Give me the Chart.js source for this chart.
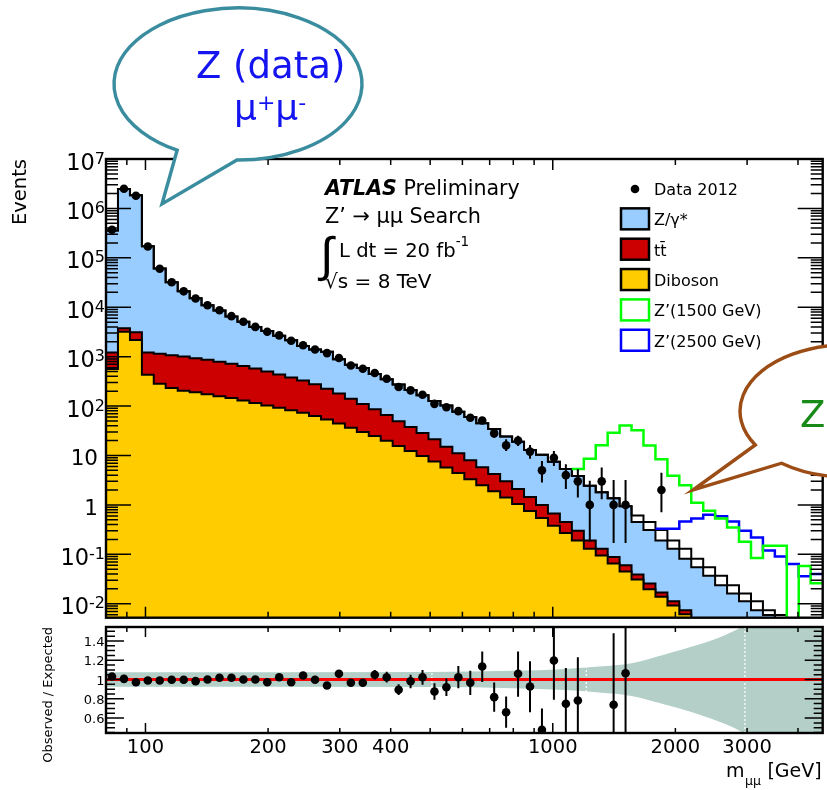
<!DOCTYPE html>
<html>
<head>
<meta charset="utf-8">
<title>Z' → μμ search: dimuon invariant mass</title>
<script src="https://cdn.jsdelivr.net/npm/chart.js@4.4.1/dist/chart.umd.min.js"></script>
<style>
  html, body { margin: 0; padding: 0; background: #ffffff; }
  #page { position: relative; width: 827px; height: 790px; overflow: hidden; background: #ffffff; }
  canvas { position: absolute; left: 0; }
  #mainCanvas { top: 0; }
  #ratioCanvas { top: 622px; }
</style>
</head>
<body>
<div id="page">
  <canvas id="mainCanvas" width="827" height="622"></canvas>
  <canvas id="ratioCanvas" width="827" height="168"></canvas>
</div>
<script>
// ---------------- binning: m_mumu bin edges in GeV (60 log-uniform bins) ----------------
const binEdges = [80.0, 85.6, 91.6, 98.0, 104.8, 112.1, 120.0, 128.4, 137.3, 146.9,
  157.2, 168.2, 179.9, 192.5, 205.9, 220.3, 235.7, 252.1, 269.8, 288.6,
  308.8, 330.3, 353.4, 378.1, 404.5, 432.8, 463.0, 495.3, 529.9, 566.9,
  606.5, 648.9, 694.2, 742.7, 794.6, 850.1, 909.5, 973.0, 1041, 1114,
  1192, 1275, 1364, 1459, 1561, 1670, 1787, 1912, 2045, 2188,
  2341, 2504, 2679, 2866, 3067, 3281, 3510, 3755, 4017, 4298, 4600];

// ---------------- observed events per bin (null = no entry) ----------------
const dataEvents = [3.7e5, 2.5e6, 1.8e6, 1.7e5, 6.0e4, 3.2e4, 2.1e4, 1.5e4, 1.1e4, 8700,
  6600, 5100, 4000, 3200, 2700, 2100, 1700, 1400, 1180, 940,
  662, 569, 466, 357, 243, 208, 170, 111, 95, 79,
  58, 51, 28, 16, 20, 12, 5, 9, 4, 3,
  1, 3, 1, 1, null, null, 2, null, null, null,
  null, null, null, null, null, null, null, null, null, null];
const dataErrLow = [null, null, null, null, null, null, null, null, null, null,
  null, null, null, null, null, null, null, null, null, null,
  null, null, null, null, null, null, null, null, null, null,
  null, null, 22.8, 12.3, 15.6, 8.6, 2.85, 6.15, 2.09, 1.42,
  0.18, 1.3, 0.17, 0.17, null, null, 0.71, null, null, null,
  null, null, null, null, null, null, null, null, null, null];
const dataErrHigh = [null, null, null, null, null, null, null, null, null, null,
  null, null, null, null, null, null, null, null, null, null,
  null, null, null, null, null, null, null, null, null, null,
  null, null, 34, 21.2, 25.2, 16.3, 7.7, 12.3, 6.65, 5.25,
  3.07, 5.7, 3.2, 3.2, null, null, 4.5, null, null, null,
  null, null, null, null, null, null, null, null, null, null];

// ---------------- stacked expectation, cumulative tops per bin (0 = below the floor) ----------------
const totalExpected = [3.59e5, 2.48e6, 1.85e6, 1.72e5, 6.06e4, 3.21e4, 2.11e4, 1.525e4, 1.1e4, 8550,
  6480, 5100, 4000, 3290, 2640, 2160, 1635, 1404, 1255, 888,
  685, 589, 444, 349, 272, 212, 166, 127, 103, 77,
  60, 45, 34.3, 24.2, 18.9, 12.9, 10.4, 7.5, 5.35, 3.84,
  2.45, 1.8, 1.36, 0.94, 0.61, 0.45, 0.31, 0.19, 0.13, 0.081,
  0.055, 0.037, 0.0236, 0.0161, 0.0113, 0.0074, 0.0059, 0, 0, 0];
const zStackTop = [3.59e5, 2.48e6, 1.85e6, 1.72e5, 6.06e4, 3.21e4, 2.11e4, 1.525e4, 1.1e4, 8550,
  6480, 5100, 4000, 3290, 2640, 2160, 1635, 1404, 1255, 888,
  685, 589, 444, 349, 272, 212, 166, 127, 103, 77,
  60, 45, 34.3, 24.2, 18.9, 12.9, 10.4, 7.5, 5.35, 3.84,
  2.45, 1.8, 1.36, 0.94, 0.45, 0.31, 0.19, 0.13, 0.081, 0.055,
  0.037, 0.0236, 0.0161, 0.0113, 0.0074, 0.0059, 0, 0, 0, 0];
const ttStackTop = [1210, 3740, 3110, 1210, 1140, 1070, 1005, 933, 863, 786,
  716, 644, 574, 499, 434, 378, 329, 277, 225, 179,
  140, 110, 86, 66, 49.5, 37.8, 28.4, 21.2, 15.1, 11.1,
  8.0, 5.8, 4.2, 3.0, 2.1, 1.44, 1.0, 0.67, 0.45, 0.30,
  0.19, 0.13, 0.088, 0.060, 0.039, 0.0256, 0.0169, 0.0113, 0.0074, 0,
  0, 0, 0, 0, 0, 0, 0, 0, 0, 0];
const dibosonTop = [560, 3200, 2180, 430, 284, 232, 205, 190, 174, 159,
  145, 130, 116, 103, 92, 82, 73, 63, 53.5, 44.5,
  36.4, 30, 24.7, 19.8, 15.5, 12.4, 9.8, 7.6, 5.7, 4.4,
  3.3, 2.5, 1.9, 1.42, 1.04, 0.75, 0.545, 0.38, 0.27, 0.19,
  0.13, 0.095, 0.065, 0.045, 0.031, 0.0197, 0.0138, 0.0092, 0.0061, 0,
  0, 0, 0, 0, 0, 0, 0, 0, 0, 0];

// ---------------- signal + background (null = not drawn) ----------------
const zp1500Top = [null, null, null, null, null, null, null, null, null, null,
  null, null, null, null, null, null, null, null, null, null,
  null, null, null, null, null, null, null, null, null, null,
  null, null, null, null, null, null, null, null, null, 5.3,
  8.6, 16.2, 28.8, 40.5, 32.6, 16, 8.4, 3.9, 2.5, 1.1,
  0.76, 0.53, 0.35, 0.18, 0.084, 0.15, 0.15, 0, 0.058, 0.026];
const zp2500Top = [null, null, null, null, null, null, null, null, null, null,
  null, null, null, null, null, null, null, null, null, null,
  null, null, null, null, null, null, null, null, null, null,
  null, null, null, null, null, null, null, null, null, null,
  null, null, null, null, null, null, 0.33, 0.33, 0.46, 0.53,
  0.63, 0.59, 0.46, 0.30, 0.22, 0.12, 0.09, 0.064, 0.036, 0.04];

// ---------------- observed / expected ----------------
const ratioObs = [1.031, 1.007, 0.972, 0.99, 0.99, 0.997, 0.997, 0.983, 1.0, 1.018,
  1.018, 1.0, 1.0, 0.972, 1.024, 0.972, 1.041, 0.997, 0.938, 1.059,
  0.966, 0.966, 1.049, 1.024, 0.893, 0.982, 1.024, 0.876, 0.92, 1.024,
  0.966, 1.135, 0.817, 0.661, 1.059, 0.927, 0.479, 1.197, 0.748, 0.782,
  null, null, 0.738, 1.065, null, null, null, null, null, null,
  null, null, null, null, null, null, null, null, null, null];
const ratioErrLow = [null, null, null, null, null, null, null, null, null, null,
  null, null, null, null, null, null, null, null, null, null,
  0.93, 0.93, 1.0, 0.97, 0.84, 0.91, 0.945, 0.79, 0.83, 0.91,
  0.84, 0.975, 0.665, 0.50, 0.82, 0.66, 0.26, 0.79, 0.37, 0.32,
  null, null, 0.0, 0.0, null, null, null, null, null, null,
  null, null, null, null, null, null, null, null, null, null];
const ratioErrHigh = [null, null, null, null, null, null, null, null, null, null,
  null, null, null, null, null, null, null, null, null, null,
  1.0, 1.0, 1.10, 1.08, 0.95, 1.05, 1.10, 0.96, 1.01, 1.14,
  1.09, 1.29, 0.97, 0.825, 1.29, 1.19, 0.70, 1.60, 1.12, 1.23,
  null, null, 1.48, 2.13, null, null, null, null, null, null,
  null, null, null, null, null, null, null, null, null, null];

// systematic uncertainty band on the expectation
const bandMass  = [80, 506, 800, 1073, 1300, 1561, 1885, 2275, 2644, 2931, 3200, 4600];
const bandUpper = [1.075, 1.078, 1.09, 1.11, 1.135, 1.17, 1.26, 1.36, 1.46, 1.55, 1.65, 1.9];
const bandLower = [0.925, 0.922, 0.91, 0.89, 0.865, 0.83, 0.74, 0.64, 0.54, 0.45, 0.35, 0.1];
// boundaries between band segments (thin white seams)
const seamMass  = [505, 1209, 2964];
const seamLower = [0.922, 0.87, 0.445];
const seamUpper = [1.078, 1.13, 1.545];

// ---------------- axis ticks and labels ----------------
const xTickValues = [100, 200, 300, 400, 1000, 2000, 3000];
const xTickLabels = ['100', '200', '300', '400', '1000', '2000', '3000'];
const xMajorTicks = [100, 1000];
const xMinorTicks = [90, 200, 300, 400, 500, 600, 700, 800, 900, 2000, 3000, 4000];
const mainYTickValues = [1e-2, 1e-1, 1, 10, 1e2, 1e3, 1e4, 1e5, 1e6, 1e7];
const mainYTickLabels = ['10^-2', '10^-1', '1', '10', '10^2', '10^3', '10^4', '10^5', '10^6', '10^7'];
const ratioTickValues = [0.6, 0.8, 1.0, 1.2, 1.4];
const ratioTickLabels = ['0.6', '0.8', '1', '1.2', '1.4'];

// ---------------- styling ----------------
const FONT = '"DejaVu Sans", "Liberation Sans", Arial, sans-serif';
const C_Z = '#99ccff', C_TT = '#cc0000', C_VV = '#ffcc00';
const C_ZP1500 = '#00ff00', C_ZP2500 = '#0000ff';
const C_BAND = '#b3cfc7';
const X_MIN = binEdges[0], X_MAX = binEdges[binEdges.length - 1];
const Y_MIN = 0.00522, Y_MAX = 1e7;
const FLOOR = 1e-4;   // below the visible range

const binCenters = binEdges.slice(0, -1).map((e, k) => Math.sqrt(e * binEdges[k + 1]));

// step outline of a histogram: one point per lower edge, then the closing edge
function histPoints(values) {
  const first = values.findIndex(v => v !== null);
  let last = values.length - 1;
  while (last >= 0 && values[last] === null) last--;
  const pts = [];
  for (let k = first; k <= last; k++) pts.push({ x: binEdges[k], y: values[k] > 0 ? values[k] : FLOOR });
  pts.push({ x: binEdges[last + 1], y: values[last] > 0 ? values[last] : FLOOR });
  if (last + 1 < binEdges.length - 1) pts.push({ x: binEdges[last + 1], y: FLOOR });
  return pts;
}
function markerPoints(values) {
  return values.map((v, k) => v === null ? null : { x: binCenters[k], y: v }).filter(p => p);
}
function errorBarPoints(lo, hi) {
  const pts = [];
  lo.forEach((l, k) => {
    if (l === null || hi[k] === null) return;
    pts.push({ x: binCenters[k], y: l }, { x: binCenters[k], y: hi[k] }, { x: binCenters[k], y: null });
  });
  return pts;
}
function seamPoints() {
  const pts = [];
  seamMass.forEach((m, i) => pts.push({ x: m, y: seamLower[i] }, { x: m, y: seamUpper[i] }, { x: m, y: null }));
  return pts;
}

function drawText(ctx, str, x, y, font, color, align) {
  ctx.font = font;
  ctx.fillStyle = color || '#000';
  ctx.textAlign = align || 'left';
  ctx.textBaseline = 'alphabetic';
  ctx.fillText(str, x, y);
  return ctx.measureText(str).width;
}

// frame with inward ticks on all four sides
function drawFrame(chart, t) {
  const { ctx, chartArea: a } = chart;
  const xs = chart.scales.x, ys = chart.scales.y;
  ctx.save();
  ctx.beginPath();
  ctx.rect(a.left, a.top, a.right - a.left, a.bottom - a.top);
  ctx.clip();
  ctx.strokeStyle = '#000';
  ctx.lineWidth = 1.5;
  ctx.beginPath();
  const vt = (v, len) => {
    const p = xs.getPixelForValue(v);
    ctx.moveTo(p, a.bottom); ctx.lineTo(p, a.bottom - len);
    ctx.moveTo(p, a.top); ctx.lineTo(p, a.top + len);
  };
  const ht = (v, len) => {
    const p = ys.getPixelForValue(v);
    ctx.moveTo(a.left, p); ctx.lineTo(a.left + len, p);
    ctx.moveTo(a.right, p); ctx.lineTo(a.right - len, p);
  };
  t.xMajor.forEach(v => vt(v, t.xMajorLen));
  t.xMinor.forEach(v => vt(v, t.xMinorLen));
  t.yMajor.forEach(v => ht(v, t.yMajorLen));
  t.yMinor.forEach(v => ht(v, t.yMinorLen));
  ctx.stroke();
  ctx.restore();
  ctx.save();
  ctx.strokeStyle = '#000';
  ctx.lineWidth = 2.4;
  ctx.strokeRect(a.left, a.top, a.right - a.left, a.bottom - a.top);
  ctx.restore();
}

// speech bubble: ellipse with a pointed tail
function drawBubble(ctx, b) {
  ctx.save();
  ctx.beginPath();
  ctx.ellipse(b.cx, b.cy, b.rx, b.ry, 0, b.a0 * Math.PI / 180, b.a1 * Math.PI / 180, false);
  ctx.lineTo(b.tipX, b.tipY);
  ctx.closePath();
  ctx.fillStyle = '#ffffff';
  ctx.fill();
  ctx.strokeStyle = b.color;
  ctx.lineWidth = b.width;
  ctx.lineJoin = 'miter';
  ctx.stroke();
  ctx.restore();
}

// minor ticks of the log axis
const mainYMinor = [];
for (let n = -3; n <= 6; n++) for (let m = 2; m <= 9; m++) {
  const v = m * Math.pow(10, n);
  if (v > Y_MIN && v < Y_MAX) mainYMinor.push(v);
}
const ratioMinor = [];
for (let i = 9; i <= 31; i++) {
  const v = i * 0.05;
  if (!ratioTickValues.some(t => Math.abs(t - v) < 1e-6)) ratioMinor.push(v);
}

const commonOptions = {
  responsive: false,
  animation: false,
  events: [],
  plugins: { legend: { display: false }, tooltip: { enabled: false } },
  elements: { line: { tension: 0 }, point: { radius: 0 } }
};

// ---------------- upper panel ----------------
const mainDecor = {
  id: 'mainDecor',
  afterDatasetsDraw(chart) {
    drawFrame(chart, {
      xMajor: xMajorTicks, xMinor: xMinorTicks, xMajorLen: 11, xMinorLen: 6,
      yMajor: mainYTickValues, yMinor: mainYMinor, yMajorLen: 25, yMinorLen: 12
    });
  },
  afterDraw(chart) {
    const ctx = chart.ctx, ys = chart.scales.y;
    // y tick labels
    mainYTickValues.forEach((v, i) => {
      const p = ys.getPixelForValue(v);
      const parts = mainYTickLabels[i].split('^');
      if (parts.length === 1) {
        drawText(ctx, parts[0], 98, p + 10, '21.5px ' + FONT, '#000', 'right');
      } else {
        ctx.font = '16px ' + FONT;
        const ws = ctx.measureText(parts[1]).width;
        drawText(ctx, parts[1], 105, p + 4.5, '16px ' + FONT, '#000', 'right');
        drawText(ctx, parts[0], 105 - ws, p + 10.5, '22.5px ' + FONT, '#000', 'right');
      }
    });
    // y axis title
    ctx.save();
    ctx.translate(26, 159);
    ctx.rotate(-Math.PI / 2);
    drawText(ctx, 'Events', 0, 0, '19.5px ' + FONT, '#000', 'right');
    ctx.restore();

    // experiment label
    let w = drawText(ctx, 'ATLAS', 325, 195, 'italic bold 20.6px ' + FONT, '#000', 'left');
    drawText(ctx, ' Preliminary', 325 + w, 195, '20.6px ' + FONT, '#000', 'left');
    drawText(ctx, 'Z\u2019 \u2192 \u03bc\u03bc Search', 325, 223.3, '20.8px ' + FONT, '#000', 'left');
    drawText(ctx, '\u222b', 320, 271, '48px "Liberation Sans", ' + FONT, '#000', 'left');
    w = drawText(ctx, 'L dt = 20 fb', 339, 256.7, '19.6px ' + FONT, '#000', 'left');
    drawText(ctx, '-1', 339 + w, 246, '13.5px ' + FONT, '#000', 'left');
    drawText(ctx, '\u221as = 8 TeV', 325, 288.3, '20px ' + FONT, '#000', 'left');

    // legend
    const legend = [
      { label: 'Data 2012', kind: 'marker' },
      { label: 'Z/\u03b3*', kind: 'fill', color: C_Z },
      { label: 'tt\u0304', kind: 'fill', color: C_TT },
      { label: 'Diboson', kind: 'fill', color: C_VV },
      { label: 'Z\u2019(1500 GeV)', kind: 'line', color: C_ZP1500 },
      { label: 'Z\u2019(2500 GeV)', kind: 'line', color: C_ZP2500 }
    ];
    legend.forEach((e, i) => {
      const bl = 195 + 30.35 * i;
      if (e.kind === 'marker') {
        ctx.beginPath();
        ctx.arc(635, bl - 6, 4.3, 0, 2 * Math.PI);
        ctx.fillStyle = '#000';
        ctx.fill();
      } else {
        ctx.save();
        ctx.fillStyle = e.kind === 'fill' ? e.color : '#fff';
        ctx.fillRect(621, bl - 17, 28, 21);
        ctx.strokeStyle = e.kind === 'fill' ? '#000' : e.color;
        ctx.lineWidth = 2.5;
        ctx.strokeRect(621, bl - 17, 28, 21);
        ctx.restore();
      }
      drawText(ctx, e.label, 654, bl, '16px ' + FONT, '#000', 'left');
    });

    // callouts
    drawBubble(ctx, { cx: 238, cy: 84, rx: 124, ry: 76, a0: 119.4, a1: 450.5, tipX: 162, tipY: 204, color: '#3a8c9f', width: 3.4 });
    drawText(ctx, 'Z (data)', 196, 77.5, '37px ' + FONT, '#1414f0', 'left');
    let x = 234;
    x += drawText(ctx, '\u03bc', x, 120, '36px ' + FONT, '#1414f0', 'left');
    x += drawText(ctx, '+', x, 110, '22px ' + FONT, '#1414f0', 'left');
    x += drawText(ctx, '\u03bc', x, 120, '36px ' + FONT, '#1414f0', 'left');
    drawText(ctx, '-', x, 110, '22px ' + FONT, '#1414f0', 'left');

    drawBubble(ctx, { cx: 847, cy: 411, rx: 107, ry: 66, a0: 149, a1: 487.7, tipX: 693, tipY: 490, color: '#9c4d16', width: 3.4 });
    drawText(ctx, 'Z\u2019', 800, 427, '37px ' + FONT, '#178a17', 'left');
  }
};

new Chart(document.getElementById('mainCanvas'), {
  type: 'line',
  data: {
    datasets: [
      { label: 'Data 2012', data: markerPoints(dataEvents), showLine: false,
        pointRadius: 4.3, pointBackgroundColor: '#000', pointBorderColor: '#000', pointBorderWidth: 0 },
      { label: 'Data errors', data: errorBarPoints(dataErrLow, dataErrHigh), borderColor: '#000', borderWidth: 2, pointRadius: 0 },
      { label: "Z'(1500 GeV)", data: histPoints(zp1500Top), stepped: true, borderColor: C_ZP1500, borderWidth: 2.5, fill: false },
      { label: "Z'(2500 GeV)", data: histPoints(zp2500Top), stepped: true, borderColor: C_ZP2500, borderWidth: 2.5, fill: false },
      { label: 'Total expected', data: histPoints(totalExpected), stepped: true, borderColor: '#000', borderWidth: 2, fill: false },
      { label: 'Diboson', data: histPoints(dibosonTop), stepped: true, borderColor: '#000', borderWidth: 2, backgroundColor: C_VV, fill: 'start' },
      { label: 'ttbar', data: histPoints(ttStackTop), stepped: true, borderColor: '#000', borderWidth: 2, backgroundColor: C_TT, fill: 'start' },
      { label: 'Z/gamma*', data: histPoints(zStackTop), stepped: true, borderColor: '#000', borderWidth: 2, backgroundColor: C_Z, fill: 'start' }
    ]
  },
  options: Object.assign({}, commonOptions, {
    layout: { padding: { left: 106, top: 159, right: 2, bottom: 2 } },
    scales: {
      x: { type: 'logarithmic', min: X_MIN, max: X_MAX, display: false },
      y: { type: 'logarithmic', min: Y_MIN, max: Y_MAX, display: false }
    }
  }),
  plugins: [mainDecor]
});

// ---------------- ratio panel ----------------
const ratioDecor = {
  id: 'ratioDecor',
  afterDatasetsDraw(chart) {
    drawFrame(chart, {
      xMajor: xMajorTicks, xMinor: xMinorTicks, xMajorLen: 10, xMinorLen: 5,
      yMajor: ratioTickValues, yMinor: ratioMinor, yMajorLen: 18, yMinorLen: 9
    });
  },
  afterDraw(chart) {
    const ctx = chart.ctx, xs = chart.scales.x, ys = chart.scales.y;
    ratioTickValues.forEach((v, i) => {
      drawText(ctx, ratioTickLabels[i], 104.5, ys.getPixelForValue(v) + 5.2, '13px ' + FONT, '#000', 'right');
    });
    xTickValues.forEach((v, i) => {
      drawText(ctx, xTickLabels[i], xs.getPixelForValue(v), 131, '19.5px ' + FONT, '#000', 'center');
    });
    // x axis title
    let x = 726;
    x += drawText(ctx, 'm', x, 154.7, '19px ' + FONT, '#000', 'left');
    x += drawText(ctx, '\u03bc\u03bc', x + 0.5, 163, '12.5px ' + FONT, '#000', 'left');
    drawText(ctx, ' [GeV]', x + 1, 154.7, '19px ' + FONT, '#000', 'left');
    // y axis title
    ctx.save();
    ctx.translate(52, 5);
    ctx.rotate(-Math.PI / 2);
    drawText(ctx, 'Observed / Expected', 0, 0, '13px ' + FONT, '#000', 'right');
    ctx.restore();
  }
};

new Chart(document.getElementById('ratioCanvas'), {
  type: 'line',
  data: {
    datasets: [
      { label: 'Observed / Expected', data: markerPoints(ratioObs), showLine: false,
        pointRadius: 4.3, pointBackgroundColor: '#000', pointBorderColor: '#000', pointBorderWidth: 0 },
      { label: 'Ratio errors', data: errorBarPoints(ratioErrLow, ratioErrHigh), borderColor: '#000', borderWidth: 2, pointRadius: 0 },
      { label: 'Unity', data: [{ x: X_MIN, y: 1 }, { x: X_MAX, y: 1 }], borderColor: '#ff0000', borderWidth: 3.2 },
      { label: 'Band seams', data: seamPoints(), borderColor: 'rgba(255,255,255,0.9)', borderWidth: 1.4, borderDash: [2, 2] },
      { label: 'Band upper', data: bandMass.map((m, i) => ({ x: m, y: bandUpper[i] })), borderWidth: 0,
        borderColor: 'rgba(0,0,0,0)', backgroundColor: C_BAND, fill: '+1', cubicInterpolationMode: 'monotone' },
      { label: 'Band lower', data: bandMass.map((m, i) => ({ x: m, y: bandLower[i] })), borderWidth: 0,
        borderColor: 'rgba(0,0,0,0)', fill: false, cubicInterpolationMode: 'monotone' }
    ]
  },
  options: Object.assign({}, commonOptions, {
    layout: { padding: { left: 106, top: 5, right: 2, bottom: 57 } },
    scales: {
      x: { type: 'logarithmic', min: X_MIN, max: X_MAX, display: false },
      y: { type: 'linear', min: 0.445, max: 1.545, display: false }
    }
  }),
  plugins: [ratioDecor]
});
</script>
</body>
</html>
